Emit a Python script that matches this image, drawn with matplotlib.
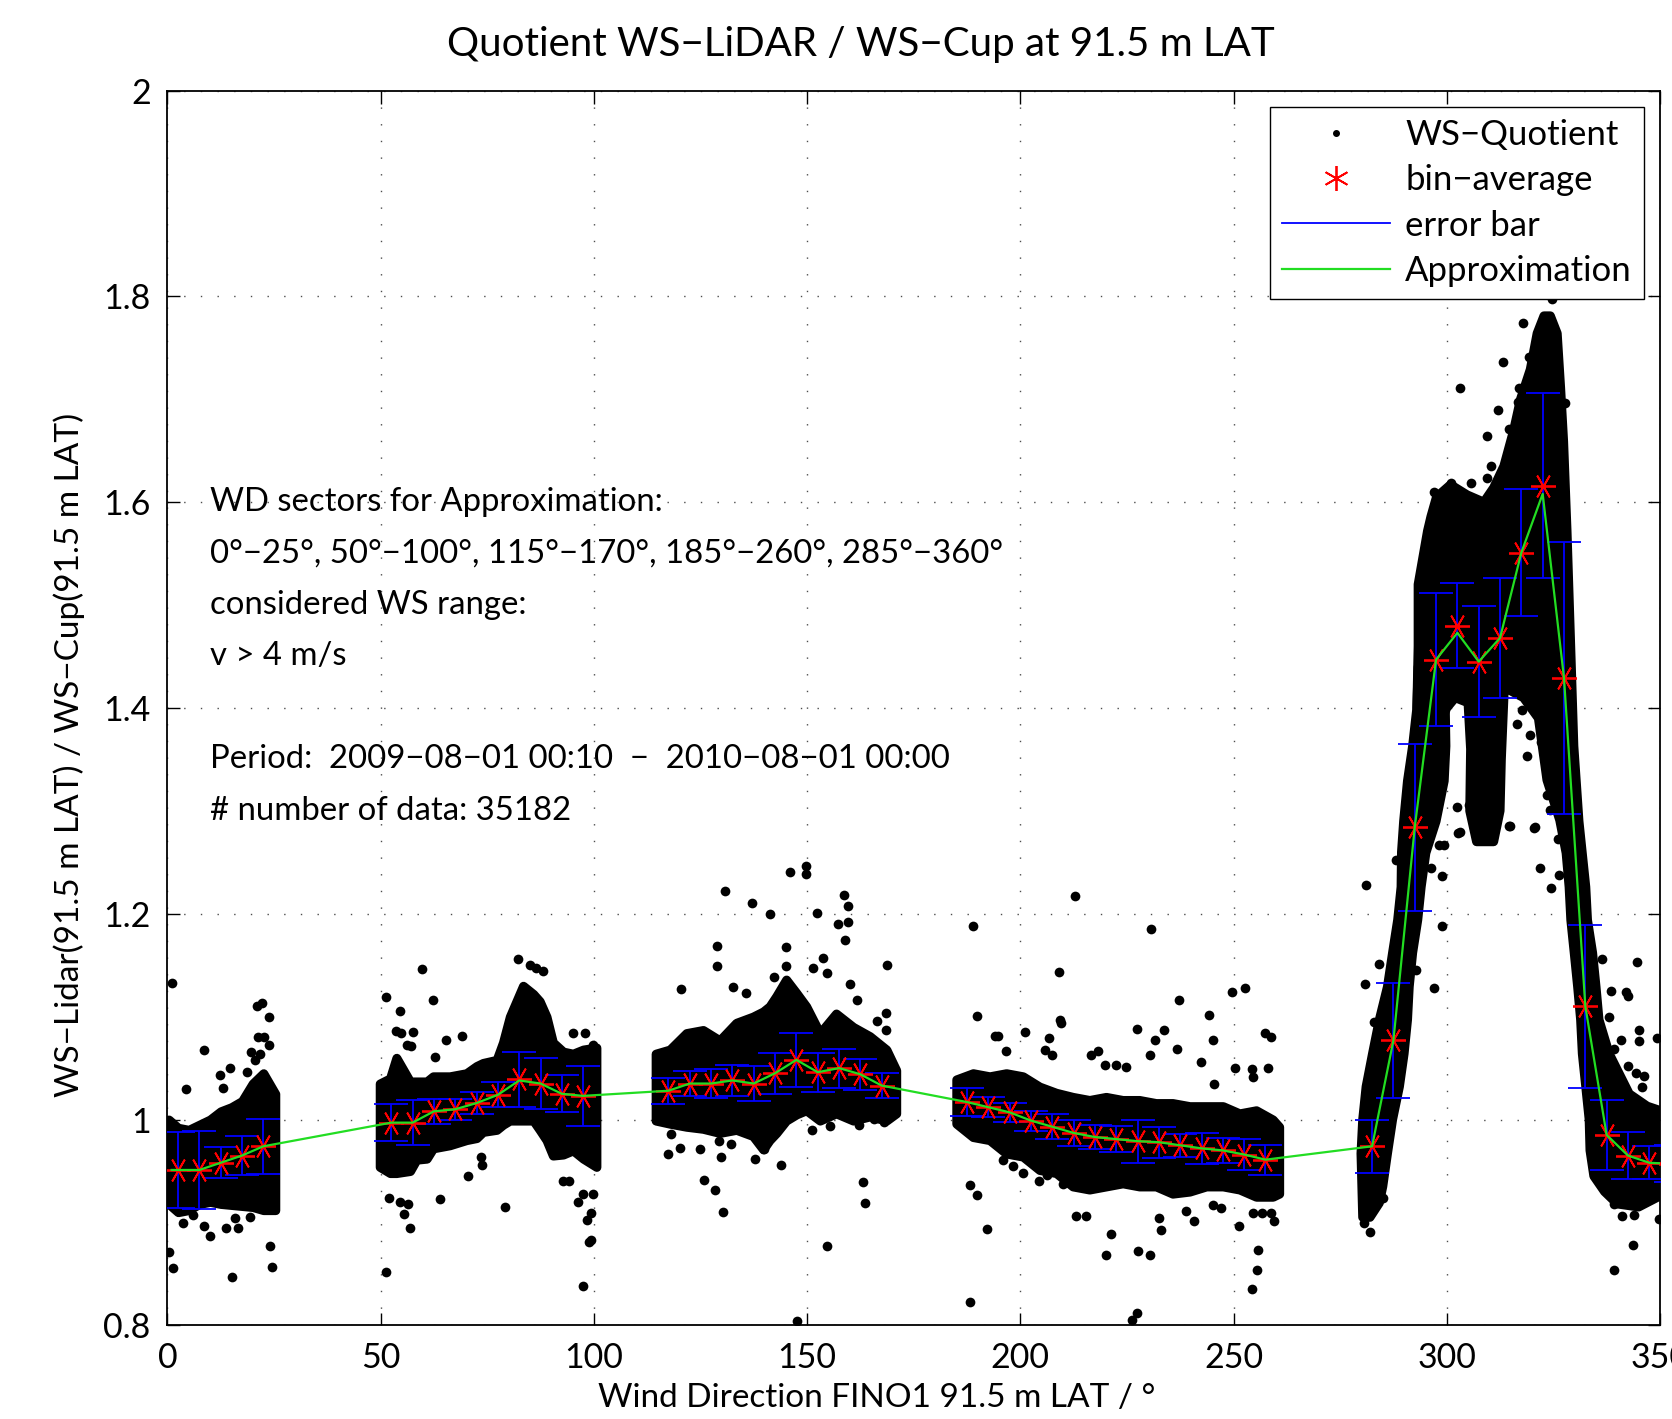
import matplotlib
matplotlib.use('Agg')
import matplotlib.pyplot as plt
from matplotlib.lines import Line2D

plt.rcParams['font.family'] = ['Lato', 'DejaVu Sans']

# bin averages (5 deg bins) and error bar half widths
bin_wd = [2.5, 7.5, 12.5, 17.5, 22.5,
          52.5, 57.5, 62.5, 67.5, 72.5, 77.5, 82.5, 87.5, 92.5, 97.5,
          117.5, 122.5, 127.5, 132.5, 137.5, 142.5, 147.5, 152.5, 157.5, 162.5, 167.5,
          187.5, 192.5, 197.5, 202.5, 207.5, 212.5, 217.5, 222.5, 227.5, 232.5, 237.5,
          242.5, 247.5, 252.5, 257.5,
          282.5, 287.5, 292.5, 297.5, 302.5, 307.5, 312.5, 317.5, 322.5, 327.5, 332.5,
          337.5, 342.5, 347.5, 352.5]
bin_q = [0.951, 0.951, 0.958, 0.965, 0.974,
         0.997, 0.997, 1.008, 1.010, 1.016, 1.024, 1.039, 1.035, 1.025, 1.023,
         1.028, 1.035, 1.035, 1.038, 1.035, 1.045, 1.058, 1.046, 1.050, 1.044, 1.033,
         1.017, 1.012, 1.007, 0.999, 0.993, 0.987, 0.983, 0.981, 0.979, 0.978, 0.975,
         0.972, 0.970, 0.966, 0.961,
         0.974, 1.077, 1.284, 1.447, 1.480, 1.445, 1.468, 1.551, 1.616, 1.429, 1.110,
         0.985, 0.965, 0.958, 0.957]
bin_err = [0.037, 0.038, 0.015, 0.019, 0.027,
           0.018, 0.022, 0.012, 0.010, 0.011, 0.012, 0.027, 0.025, 0.018, 0.029,
           0.0125, 0.012, 0.014, 0.015, 0.017, 0.020, 0.026, 0.019, 0.019, 0.015, 0.0125,
           0.014, 0.010, 0.0095, 0.0097, 0.012, 0.013, 0.012, 0.0125, 0.021, 0.015, 0.011,
           0.015, 0.0125, 0.015, 0.0145,
           0.026, 0.056, 0.081, 0.065, 0.041, 0.054, 0.058, 0.062, 0.090, 0.132, 0.079,
           0.034, 0.023, 0.016, 0.018]

# green approximation curve
approx_wd = [1.0, 2.5, 7.5, 12.5, 17.5, 22.5,
             52.5, 57.5, 62.5, 67.5, 72.5, 77.5, 82.5, 87.5, 92.5, 97.5,
             117.5, 122.5, 127.5, 132.5, 137.5, 142.5, 147.5, 152.5, 157.5, 162.5, 167.5,
             187.5, 192.5, 197.5, 202.5, 207.5, 212.5, 217.5, 222.5, 227.5, 232.5, 237.5,
             242.5, 247.5, 252.5, 257.5,
             282.5, 287.5, 292.5, 297.5, 302.5, 307.5, 312.5, 317.5, 322.5, 327.5, 332.5,
             337.5, 342.5, 347.5, 352.5]
approx_q = [0.951, 0.951, 0.951, 0.958, 0.965, 0.974,
            0.997, 0.997, 1.008, 1.010, 1.016, 1.024, 1.038, 1.035, 1.025, 1.023,
            1.028, 1.035, 1.035, 1.038, 1.035, 1.045, 1.058, 1.046, 1.050, 1.044, 1.033,
            1.017, 1.012, 1.007, 0.999, 0.993, 0.987, 0.983, 0.981, 0.979, 0.978, 0.975,
            0.972, 0.970, 0.966, 0.961,
            0.974, 1.077, 1.284, 1.447, 1.473, 1.445, 1.468, 1.551, 1.608, 1.429, 1.110,
            0.985, 0.965, 0.958, 0.957]

# dense part of the scatter cloud: lower / upper edge per sector
s1_wd = [0.3, 2.5, 5, 7.5, 10, 12.5, 15, 17.5, 20, 22.5, 25.3]
s1_lo = [0.918, 0.910, 0.912, 0.918, 0.920, 0.918, 0.917, 0.916, 0.915, 0.912, 0.912]
s1_hi = [1.000, 0.992, 0.990, 0.995, 1.000, 1.008, 1.012, 1.018, 1.035, 1.045, 1.025]

s2_wd = [49.8, 52.2, 53.7, 56.9, 58.4, 60.8, 62.3, 66.2, 70.1, 72.5, 74.0, 77.2,
         78.7, 80.3, 83.4, 85.8, 87.3, 88.9, 90.4, 92.8, 95.1, 97.5, 100.6]
s2_lo = [0.954, 0.948, 0.948, 0.950, 0.961, 0.962, 0.972, 0.975, 0.980, 0.982, 0.988, 0.990,
         0.995, 0.999, 0.999, 0.999, 0.990, 0.980, 0.965, 0.966, 0.970, 0.962, 0.954]
s2_hi = [1.035, 1.040, 1.060, 1.037, 1.037, 1.037, 1.042, 1.042, 1.045, 1.052, 1.055, 1.058,
         1.075, 1.100, 1.130, 1.122, 1.115, 1.100, 1.075, 1.066, 1.064, 1.068, 1.070]

s3_wd = [114.5, 117.8, 121.7, 125.6, 129.5, 133.4, 137.3, 139.7, 141.2, 142.8, 145.1,
         147.5, 149.8, 153.0, 156.8, 160.8, 164.7, 168.6, 170.9]
s3_lo = [0.999, 0.996, 0.993, 0.991, 0.987, 0.990, 0.984, 0.971, 0.980, 0.987, 0.999,
         1.005, 1.009, 0.999, 1.006, 0.999, 1.003, 0.999, 1.006]
s3_hi = [1.064, 1.068, 1.084, 1.087, 1.077, 1.094, 1.100, 1.105, 1.110, 1.120, 1.136,
         1.123, 1.110, 1.084, 1.103, 1.090, 1.081, 1.068, 1.048]

s4_wd = [185.0, 188.9, 192.8, 196.7, 200.6, 204.5, 208.4, 212.3, 216.2, 220.1, 224.0,
         227.9, 231.8, 235.7, 239.7, 243.6, 247.5, 251.4, 255.3, 259.2, 260.7]
s4_lo = [0.996, 0.983, 0.980, 0.967, 0.964, 0.951, 0.948, 0.935, 0.932, 0.935, 0.938,
         0.935, 0.935, 0.928, 0.930, 0.935, 0.935, 0.932, 0.925, 0.925, 0.928]
s4_hi = [1.039, 1.045, 1.042, 1.045, 1.042, 1.032, 1.026, 1.022, 1.019, 1.022, 1.019,
         1.019, 1.016, 1.016, 1.013, 1.013, 1.013, 1.006, 1.009, 1.000, 0.993]

# sector 285-360: outline of the rising ramp and of the peak region
ramp_wd = [280.3, 279.9, 280.3, 281.1, 282.6, 284.2, 286.1, 287.3, 288.5, 289.3, 289.4,
           289.9, 290.8, 292.0, 293.0, 293.3,
           299.5, 299.8, 299.4, 297.5, 295.1, 294.0, 293.2, 292.0, 291.2, 290.8, 290.0,
           288.9, 287.3, 286.1, 285.0, 284.2, 282.0]
ramp_q = [0.905, 0.967, 1.000, 1.032, 1.064, 1.097, 1.129, 1.162, 1.194, 1.226, 1.260,
          1.290, 1.329, 1.363, 1.400, 1.440,
          1.440, 1.363, 1.329, 1.290, 1.259, 1.226, 1.194, 1.162, 1.129, 1.097, 1.064,
          1.032, 1.000, 0.967, 0.935, 0.919, 0.905]

peak_wd = [293.0, 293.3, 293.3, 295.5, 296.3, 297.6,
           300.9, 304.8, 308.7, 311.0, 313.4, 315.7, 317.3, 319.6, 321.2, 322.8, 324.3, 325.9,
           326.7, 327.4, 328.2, 329.0, 329.8, 331.0, 332.6, 333.0, 334.2, 335.0, 335.7, 338.1,
           342.8, 347.0, 352.0,
           352.0, 345.0, 340.0, 337.0, 334.5, 333.6, 333.4, 333.0, 332.6, 331.8, 331.4, 330.7,
           329.9, 329.1, 328.7, 328.0, 326.5,
           323.5, 321.5, 318.0, 313.5,
           312.8, 312.5, 311.0, 307.0, 305.4, 305.6, 305.0, 302.0, 300.0, 298.0]
peak_q = [1.400, 1.460, 1.520, 1.572, 1.586, 1.605,
          1.617, 1.607, 1.600, 1.614, 1.635, 1.670, 1.700, 1.729, 1.764, 1.781, 1.781, 1.764,
          1.711, 1.659, 1.572, 1.468, 1.363, 1.290, 1.226, 1.194, 1.162, 1.129, 1.097, 1.064,
          1.025, 1.013, 1.006,
          0.930, 0.915, 0.918, 0.930, 0.945, 0.970, 1.000, 1.016, 1.032, 1.064, 1.097, 1.129,
          1.162, 1.194, 1.226, 1.259, 1.291,
          1.330, 1.390, 1.410, 1.420,
          1.350, 1.300, 1.270, 1.270, 1.300, 1.360, 1.405, 1.410, 1.400, 1.380]

# single scattered points outside the dense cloud
out_wd = [1.0, 4.4, 8.7, 13.0, 21.1, 22.1, 23.8, 21.3, 22.6, 23.8, 21.7, 3.7, 6.1, 8.7, 10.0,
          13.7, 16.5, 15.1, 0.45, 1.4, 24.0, 24.6, 23.7, 19.4, 15.8, 12.3, 14.7, 18.6, 19.7, 20.5,
          51.2, 59.7, 62.3, 54.5, 53.7, 54.9, 57.6, 56.1, 57.2, 65.3, 69.2, 62.7, 82.2, 85.0,
          86.5, 88.1, 95.1, 97.9, 99.8, 52.0, 54.5, 56.5, 55.5, 56.9, 64.0, 70.4, 79.1, 92.8,
          94.1, 96.3, 97.5, 99.8, 99.4, 98.3, 98.9, 99.4, 97.5, 51.2, 73.7, 73.5,
          120.5, 130.7, 128.9, 128.9, 132.6, 135.6, 137.1, 141.2, 142.2, 145.1, 145.1, 146.1,
          149.8, 149.8, 152.3, 153.7, 158.6, 159.6, 157.2, 159.6, 158.8, 151.4, 154.7, 160.1,
          161.7, 168.6, 168.8, 166.4, 168.4, 118.2, 117.4, 120.1, 124.8, 125.8, 128.3, 130.4,
          129.9, 129.3, 132.2, 137.9, 139.8, 143.8, 151.2, 155.3, 163.1, 163.6, 154.7, 147.7,
          162.1, 165.8, 168.0,
          189.0, 189.9, 212.9, 209.0, 209.2, 209.6, 230.7, 237.2, 244.3, 249.7, 252.8, 245.1,
          236.8, 227.4, 233.6, 231.5, 257.5, 258.8, 258.2, 254.3, 254.6, 250.4, 242.4, 245.5,
          216.6, 218.3, 219.9, 222.5, 224.8, 230.4, 201.0, 206.8, 205.7, 194.0, 194.7, 188.2,
          189.8, 192.2, 188.2, 220.1, 221.3, 227.5, 230.5, 227.3, 226.2, 213.1, 215.3, 233.0,
          232.5, 238.9, 240.8, 251.2, 254.5, 256.7, 255.7, 255.4, 254.3, 258.8, 259.6, 247.1,
          245.1, 204.3, 206.2, 210.0, 198.2, 195.9, 200.6, 196.7, 207.5,
          281.1, 288.1, 284.0, 280.9, 283.0, 285.0, 284.0, 285.0, 280.7, 282.0, 296.3, 298.9,
          297.1, 298.9, 292.8, 303.1, 299.4, 298.1, 314.9, 320.7, 326.2, 321.9, 326.4, 324.4,
          336.4, 344.5, 342.0, 342.4, 338.1, 338.5, 345.1, 345.1, 349.4, 340.8, 339.3, 342.4,
          344.3, 345.9, 346.3, 339.3, 341.2, 343.8, 343.7, 339.3, 349.8, 303.1, 297.0, 300.9,
          305.6, 302.5, 312.0, 309.5, 310.3, 314.6, 316.7, 309.5, 313.2, 317.8, 319.2, 316.9,
          327.8, 305.2, 310.3, 314.6, 320.4, 319.6, 322.0, 318.9, 323.5, 323.5, 325.9, 324.3,
          316.5, 317.7, 318.1, 302.5, 302.6, 324.7]
out_q = [1.133, 1.030, 1.068, 1.031, 1.110, 1.113, 1.100, 1.080, 1.080, 1.072, 1.064, 0.899,
         0.907, 0.897, 0.887, 0.895, 0.895, 0.847, 0.871, 0.856, 0.877, 0.857, 0.914, 0.905,
         0.904, 1.043, 1.050, 1.046, 1.066, 1.058,
         1.119, 1.146, 1.116, 1.105, 1.086, 1.084, 1.085, 1.072, 1.071, 1.077, 1.081, 1.061,
         1.156, 1.150, 1.147, 1.144, 1.084, 1.084, 1.072, 0.924, 0.920, 0.918, 0.908, 0.895,
         0.923, 0.945, 0.915, 0.940, 0.940, 0.920, 0.928, 0.928, 0.909, 0.902, 0.881, 0.883,
         0.838, 0.852, 0.956, 0.964,
         1.127, 1.222, 1.169, 1.149, 1.129, 1.123, 1.210, 1.200, 1.139, 1.168, 1.149, 1.241,
         1.246, 1.239, 1.201, 1.157, 1.218, 1.208, 1.190, 1.192, 1.174, 1.147, 1.142, 1.132,
         1.116, 1.104, 1.150, 1.096, 1.087, 0.986, 0.967, 0.972, 0.971, 0.941, 0.932, 0.910,
         0.964, 0.979, 0.976, 0.962, 0.971, 0.956, 0.990, 0.994, 0.939, 0.919, 0.877, 0.804,
         0.995, 1.001, 0.998,
         1.188, 1.101, 1.217, 1.143, 1.097, 1.094, 1.185, 1.116, 1.102, 1.124, 1.128, 1.077,
         1.069, 1.088, 1.087, 1.077, 1.084, 1.080, 1.050, 1.049, 1.041, 1.050, 1.056, 1.035,
         1.063, 1.067, 1.053, 1.053, 1.051, 1.063, 1.085, 1.079, 1.068, 1.081, 1.081, 0.936,
         0.927, 0.894, 0.823, 0.868, 0.889, 0.872, 0.868, 0.812, 0.805, 0.906, 0.906, 0.893,
         0.904, 0.911, 0.901, 0.897, 0.909, 0.909, 0.873, 0.854, 0.835, 0.909, 0.901, 0.914,
         0.917, 0.940, 0.946, 0.937, 0.955, 0.961, 0.948, 1.067, 1.063,
         1.228, 1.252, 1.151, 1.132, 1.095, 1.097, 0.924, 0.924, 0.899, 0.891, 1.244, 1.237,
         1.128, 1.188, 1.145, 1.279, 1.267, 1.267, 1.285, 1.284, 1.273, 1.244, 1.238, 1.225,
         1.156, 1.153, 1.124, 1.120, 1.100, 1.125, 1.087, 1.076, 1.079, 1.077, 1.069, 1.052,
         1.045, 1.032, 1.042, 0.918, 0.906, 0.907, 0.878, 0.854, 0.903, 1.711, 1.610, 1.619,
         1.619, 1.603, 1.690, 1.664, 1.635, 1.671, 1.697, 1.623, 1.736, 1.774, 1.741, 1.711,
         1.696, 1.306, 1.308, 1.285, 1.283, 1.374, 1.367, 1.353, 1.353, 1.315, 1.329, 1.301,
         1.384, 1.398, 1.412, 1.304, 1.278, 1.797]

info_lines = ['WD sectors for Approximation:',
              '0°\u221225°, 50°\u2212100°, 115°\u2212170°, 185°\u2212260°, 285°\u2212360°',
              'considered WS range:',
              'v > 4 m/s',
              'Period:  2009\u221208\u221201 00:10  \u2212  2010\u221208\u221201 00:00',
              '# number of data: 35182']
info_y = [1.6, 1.55, 1.5, 1.45, 1.35, 1.3]

fig = plt.figure(figsize=(16.72, 14.19), dpi=100)
ax = fig.add_axes([0.1001, 0.0660, 0.8927, 0.8702])

# scatter cloud
for wd, lo, hi in [(s1_wd, s1_lo, s1_hi), (s2_wd, s2_lo, s2_hi),
                   (s3_wd, s3_lo, s3_hi), (s4_wd, s4_lo, s4_hi)]:
    ax.fill_between(wd, lo, hi, facecolor='k', edgecolor='k', linewidth=6.5, joinstyle='round', zorder=2)
ax.fill(ramp_wd, ramp_q, facecolor='k', edgecolor='k', linewidth=6.5, joinstyle='round', zorder=2)
ax.fill(peak_wd, peak_q, facecolor='k', edgecolor='k', linewidth=6.5, joinstyle='round', zorder=2)
ax.plot(out_wd, out_q, 'o', color='k', ms=7, mew=0, zorder=2)

ax.errorbar(bin_wd, bin_q, yerr=bin_err, fmt='none', ecolor='#0000ff', elinewidth=1.3,
            capsize=12, capthick=1.3, zorder=3)
ax.plot(bin_wd, bin_q, ls='none', marker=(6, 2, 90), ms=18, mew=1.3, color='#ff0000', zorder=4)
ax.plot(approx_wd, approx_q, color='#22dd22', lw=1.6, zorder=5)

for txt, yy in zip(info_lines, info_y):
    ax.text(10, yy, txt, fontsize=23.7, va='center', ha='left', zorder=6)

ax.set_xlim(0, 350)
ax.set_ylim(0.8, 2.0)
ax.set_xticks([0, 50, 100, 150, 200, 250, 300, 350])
ax.set_yticks([0.8, 1.0, 1.2, 1.4, 1.6, 1.8, 2.0])
ax.set_yticklabels(['0.8', '1', '1.2', '1.4', '1.6', '1.8', '2'])
ax.tick_params(direction='in', length=9, width=1, top=True, right=True, labelsize=24.5, pad=12)
ax.grid(True, linestyle=(0, (1, 11)), color='0.3', linewidth=1)
for sp in ax.spines.values():
    sp.set_linewidth(1.3)

fig.text(0.515, 0.9683, 'Quotient WS\u2212LiDAR / WS\u2212Cup at 91.5 m LAT', fontsize=29,
         ha='center', va='center')
fig.text(0.5245, 0.0148, 'Wind Direction FINO1 91.5 m LAT / °', fontsize=24,
         ha='center', va='center')
fig.text(0.0413, 0.468, 'WS\u2212Lidar(91.5 m LAT) / WS\u2212Cup(91.5 m LAT)', fontsize=24,
         ha='center', va='center', rotation=90)

handles = [Line2D([], [], ls='none', marker='o', ms=4, color='k'),
           Line2D([], [], ls='none', marker=(6, 2, 0), ms=18, mew=1.3, color='#ff0000'),
           Line2D([], [], color='#0000ff', lw=1.3),
           Line2D([], [], color='#22dd22', lw=1.6)]
labels = ['WS\u2212Quotient', 'bin\u2212average', 'error bar', 'Approximation']
leg = ax.legend(handles, labels, loc='upper right', bbox_to_anchor=(0.9833, 0.9246),
                bbox_transform=fig.transFigure, borderaxespad=0, fontsize=25,
                handlelength=3.1, handletextpad=0.45, borderpad=0.35, labelspacing=0.38,
                fancybox=False, framealpha=1, edgecolor='k')
leg.get_frame().set_linewidth(1)
leg.set_zorder(10)

fig.savefig('out.png', dpi=100)
